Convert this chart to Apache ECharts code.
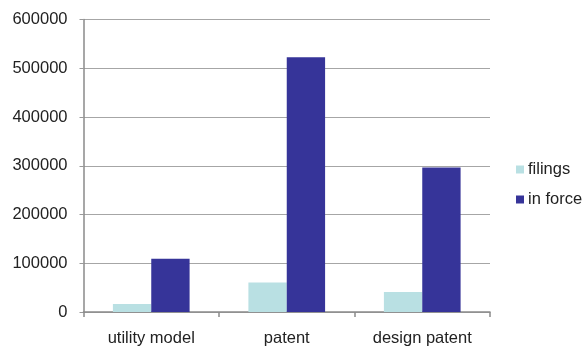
<!DOCTYPE html>
<html>
<head>
<meta charset="utf-8">
<script src="https://cdn.jsdelivr.net/npm/echarts@6/dist/echarts.min.js"></script>
<style>
  html, body { margin: 0; padding: 0; background: #fff; }
  #chart { width: 587px; height: 347px; }
</style>
</head>
<body>
<div id="chart"></div>
<script>
// IP rights by type: yearly filings vs. rights in force
const categories = ['utility model', 'patent', 'design patent'];
const filings = [16400, 60700, 41000];
const inForce = [109200, 522500, 296300];
const yTicks = { min: 0, max: 600000, interval: 100000 };

const chart = echarts.init(document.getElementById('chart'), null, { renderer: 'canvas' });
const font = 'Liberation Sans, Arial, sans-serif';
const fs = 16.5;

chart.setOption({
  animation: false,
  backgroundColor: '#ffffff',
  textStyle: { fontFamily: font },
  grid: { left: 83.5, right: 97, top: 19.5, bottom: 34.7, containLabel: false },
  legend: {
    orient: 'vertical',
    left: 516,
    top: 161,
    padding: 0,
    itemWidth: 8,
    itemHeight: 8,
    itemGap: 13,
    icon: 'rect',
    textStyle: { fontFamily: font, fontSize: fs, color: '#222', padding: [0, 0, 0, -1] },
    data: ['filings', 'in force']
  },
  xAxis: {
    type: 'category',
    data: categories,
    axisLine: { lineStyle: { color: '#8a8a8a', width: 1.5 } },
    axisTick: { show: true, length: 5, lineStyle: { color: '#8a8a8a', width: 1.5 } },
    axisLabel: { fontFamily: font, fontSize: fs, color: '#222', margin: 18 },
    splitLine: { show: false }
  },
  yAxis: {
    type: 'value',
    min: yTicks.min,
    max: yTicks.max,
    interval: yTicks.interval,
    axisLine: { show: true, lineStyle: { color: '#8a8a8a', width: 1.5 } },
    axisTick: { show: true, length: 4, lineStyle: { color: '#999' } },
    axisLabel: { fontFamily: font, fontSize: fs, color: '#222', margin: 16, formatter: v => String(v) },
    splitLine: { lineStyle: { color: '#a6a6a6', width: 1.2 } }
  },
  series: [
    {
      name: 'filings',
      type: 'bar',
      data: filings,
      barGap: '0%',
      barCategoryGap: '43.4%',
      itemStyle: { color: '#b9e0e3' }
    },
    {
      name: 'in force',
      type: 'bar',
      data: inForce,
      barGap: '0%',
      barCategoryGap: '43.4%',
      itemStyle: { color: '#363499' }
    }
  ]
});
</script>
</body>
</html>
